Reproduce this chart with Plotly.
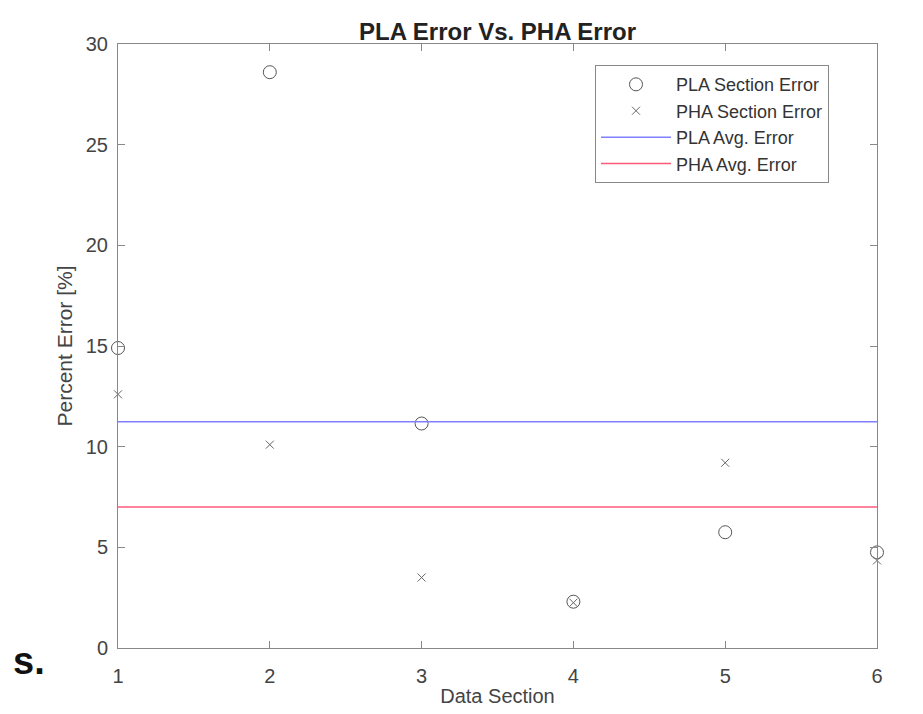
import plotly.graph_objects as go

sections = [1, 2, 3, 4, 5, 6]
pla_err = [14.9, 28.6, 11.15, 2.3, 5.75, 4.75]
pha_err = [12.6, 10.1, 3.5, 2.25, 9.2, 4.35]
pla_avg = sum(pla_err) / len(pla_err)
pha_avg = sum(pha_err) / len(pha_err)

W, H = 923, 714
L, R, T, B = 118, 46, 44, 66
PW = W - L - R

fig = go.Figure()
fig.add_trace(go.Scatter(x=sections, y=pla_err, mode="markers", name="PLA Section Error", cliponaxis=False,
                         marker=dict(symbol="circle-open", size=13, color="#555555", line=dict(width=1))))
fig.add_trace(go.Scatter(x=sections, y=pha_err, mode="markers", name="PHA Section Error", cliponaxis=False,
                         marker=dict(symbol="x-thin-open", size=8, color="#666666", line=dict(width=1))))
fig.add_trace(go.Scatter(x=[sections[0], sections[-1]], y=[pla_avg, pla_avg], mode="lines",
                         name="PLA Avg. Error", line=dict(color="#8080ff", width=1.5)))
fig.add_trace(go.Scatter(x=[sections[0], sections[-1]], y=[pha_avg, pha_avg], mode="lines",
                         name="PHA Avg. Error", line=dict(color="#ff5a78", width=1.5)))

axis_common = dict(showgrid=False, zeroline=False, showline=True, linecolor="#888888", linewidth=1,
                   mirror="ticks", ticks="inside", ticklen=7, tickcolor="#888888",
                   tickfont=dict(size=20, color="#444444", family="Liberation Sans, Arial"))
fig.update_xaxes(range=[1, 6], tickvals=sections, ticklabelstandoff=10,
                 title=dict(text="Data Section", standoff=2, font=dict(size=20, color="#444444")),
                 **axis_common)
fig.update_yaxes(range=[0, 30], tickvals=[0, 5, 10, 15, 20, 25, 30], ticklabelstandoff=5,
                 title=dict(text="Percent Error [%]", standoff=7, font=dict(size=21, color="#444444")),
                 **axis_common)

fig.update_layout(
    width=W, height=H, margin=dict(l=L, r=R, t=T, b=B),
    paper_bgcolor="white", plot_bgcolor="white",
    font=dict(family="Liberation Sans, Arial", color="#444444"),
    title=dict(text="<b>PLA Error Vs. PHA Error</b>", x=(L + PW / 2) / W, xanchor="center",
               y=1 - 32 / H, yanchor="middle", font=dict(size=24, color="#222222")),
    legend=dict(x=(595 - L) / PW, y=0.965, xanchor="left", yanchor="top", bgcolor="white",
                bordercolor="#888888", borderwidth=1, font=dict(size=18, color="#333333"),
                tracegroupgap=0, itemwidth=70),
    showlegend=True,
)
fig.add_annotation(text="<b>s.</b>", xref="paper", yref="paper", x=-0.093, y=-0.022,
                   xanchor="right", yanchor="middle", showarrow=False,
                   font=dict(size=38, color="#111111", family="Liberation Sans, Arial"))

fig.write_html("out.html")
